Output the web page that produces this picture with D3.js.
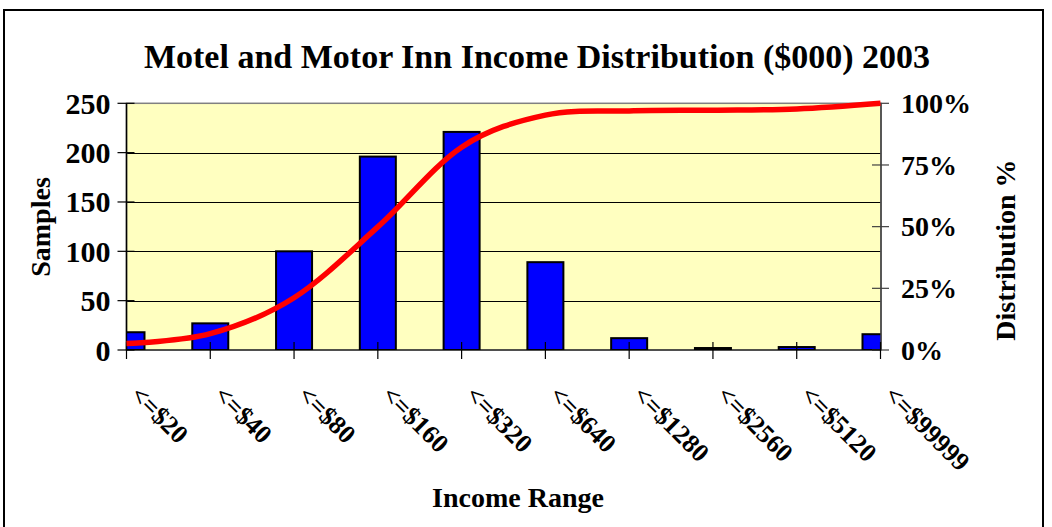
<!DOCTYPE html>
<html>
<head>
<meta charset="utf-8">
<script src="https://cdn.jsdelivr.net/npm/d3@7"></script>
<style>
  body { margin: 0; background: #fff; }
  svg text { font-family: "Liberation Serif", "Times New Roman", serif; font-weight: bold; fill: #000; }
</style>
</head>
<body>
<div id="chart"></div>
<script>
// income ranges ($000)
const categories = ['<=$20', '<=$40', '<=$80', '<=$160', '<=$320', '<=$640', '<=$1280', '<=$2560', '<=$5120', '<=$99999'];
// number of samples per range
const samples = [18, 27, 100, 196, 221, 89, 12, 2, 3, 16];
// cumulative distribution (%)
const distribution = [2.6, 6.6, 21.2, 49.9, 82.2, 95.2, 96.9, 97.2, 97.7, 100];
const leftTicks = [0, 50, 100, 150, 200, 250];
const rightTicks = [0, 25, 50, 75, 100];

const width = 1052;
const height = 527;
const plot = { left: 126.5, right: 881, top: 103.3, bottom: 350 };

const svg = d3.select('#chart')
  .append('svg')
  .attr('width', width)
  .attr('height', height);

// outer frame
svg.append('rect')
  .attr('x', 4).attr('y', 10)
  .attr('width', 1039).attr('height', 530)
  .attr('fill', '#fff')
  .attr('stroke', '#000')
  .attr('stroke-width', 2);

const x = d3.scalePoint()
  .domain(categories)
  .range([plot.left, plot.right - 0.5]);

const y = d3.scaleLinear()
  .domain([0, 250])
  .range([plot.bottom, plot.top]);

const yr = d3.scaleLinear()
  .domain([0, 100])
  .range([plot.bottom, plot.top]);

// plot background
svg.append('rect')
  .attr('x', plot.left).attr('y', plot.top)
  .attr('width', plot.right - plot.left).attr('height', plot.bottom - plot.top)
  .attr('fill', '#FFFFC0');

svg.append('clipPath').attr('id', 'plotClip')
  .append('rect')
  .attr('x', plot.left).attr('y', plot.top - 5)
  .attr('width', plot.right - plot.left).attr('height', plot.bottom - plot.top + 5);

// gridlines
svg.append('g')
  .selectAll('line')
  .data(leftTicks.filter(d => d > 0 && d < 250))
  .enter().append('line')
  .attr('x1', plot.left).attr('x2', plot.right)
  .attr('y1', d => Math.round(y(d)) + 0.5).attr('y2', d => Math.round(y(d)) + 0.5)
  .attr('stroke', '#000')
  .attr('stroke-width', 1);

// plot border (gray)
svg.append('rect')
  .attr('x', plot.left).attr('y', plot.top)
  .attr('width', plot.right - plot.left).attr('height', plot.bottom - plot.top)
  .attr('fill', 'none')
  .attr('stroke', '#808080')
  .attr('stroke-width', 1.5);

// bars
const barW = 36;
svg.append('g')
  .attr('clip-path', 'url(#plotClip)')
  .selectAll('rect')
  .data(samples)
  .enter().append('rect')
  .attr('x', (d, i) => x(categories[i]) - barW / 2)
  .attr('y', d => y(d))
  .attr('width', barW)
  .attr('height', d => plot.bottom - y(d))
  .attr('fill', '#0000FF')
  .attr('stroke', '#000')
  .attr('stroke-width', 2);

// left axis
const leftAxis = svg.append('g').attr('transform', `translate(${plot.left},0)`);
leftAxis.append('line')
  .attr('y1', plot.top).attr('y2', plot.bottom)
  .attr('stroke', '#000').attr('stroke-width', 1.5);
leftAxis.selectAll('.tick')
  .data(leftTicks)
  .enter().append('line')
  .attr('x1', -9).attr('x2', 8)
  .attr('y1', d => y(d)).attr('y2', d => y(d))
  .attr('stroke', '#000').attr('stroke-width', 1.2);
leftAxis.selectAll('text')
  .data(leftTicks)
  .enter().append('text')
  .attr('x', -16)
  .attr('y', d => y(d))
  .attr('dy', '0.35em')
  .attr('text-anchor', 'end')
  .style('font-size', '30px')
  .text(d => d);

// right axis
const rightAxis = svg.append('g').attr('transform', `translate(${plot.right},0)`);
rightAxis.append('line')
  .attr('y1', plot.top).attr('y2', plot.bottom)
  .attr('stroke', '#404040').attr('stroke-width', 1.5);
rightAxis.selectAll('.tick')
  .data(rightTicks)
  .enter().append('line')
  .attr('x1', -9).attr('x2', 8)
  .attr('y1', d => yr(d)).attr('y2', d => yr(d))
  .attr('stroke', '#404040').attr('stroke-width', 1.2);
rightAxis.selectAll('text')
  .data(rightTicks)
  .enter().append('text')
  .attr('x', 20)
  .attr('y', d => yr(d))
  .attr('dy', '0.35em')
  .style('font-size', '28px')
  .text(d => d + '%');

// bottom axis ticks
svg.append('g')
  .selectAll('line')
  .data(categories)
  .enter().append('line')
  .attr('x1', d => x(d)).attr('x2', d => x(d))
  .attr('y1', plot.bottom - 8).attr('y2', plot.bottom + 9)
  .attr('stroke', '#000').attr('stroke-width', 1.2);

svg.append('line')
  .attr('x1', plot.left).attr('x2', plot.right)
  .attr('y1', plot.bottom).attr('y2', plot.bottom)
  .attr('stroke', '#000').attr('stroke-width', 1.2);

// category labels, rotated
svg.append('g')
  .selectAll('text')
  .data(categories)
  .enter().append('text')
  .attr('transform', d => `translate(${x(d) + 9},${plot.bottom + 40}) rotate(45)`)
  .attr('dy', '0.35em')
  .style('font-size', '26px')
  .text(d => d);

// cumulative line
const line = d3.line()
  .x((d, i) => x(categories[i]))
  .y(d => yr(d))
  .curve(d3.curveCardinal.tension(0));

svg.append('path')
  .datum(distribution)
  .attr('d', line)
  .attr('fill', 'none')
  .attr('stroke', '#FF0000')
  .attr('stroke-width', 5.5)
  .attr('stroke-linejoin', 'round');

// titles
svg.append('text')
  .attr('x', 537).attr('y', 68)
  .attr('text-anchor', 'middle')
  .style('font-size', '34px')
  .text('Motel and Motor Inn Income Distribution ($000) 2003');

svg.append('text')
  .attr('transform', 'translate(50,227) rotate(-90)')
  .attr('text-anchor', 'middle')
  .style('font-size', '28px')
  .text('Samples');

svg.append('text')
  .attr('transform', 'translate(1015,250) rotate(-90)')
  .attr('text-anchor', 'middle')
  .style('font-size', '28px')
  .text('Distribution %');

svg.append('text')
  .attr('x', 518).attr('y', 507)
  .attr('text-anchor', 'middle')
  .style('font-size', '28px')
  .text('Income Range');
</script>
</body>
</html>
